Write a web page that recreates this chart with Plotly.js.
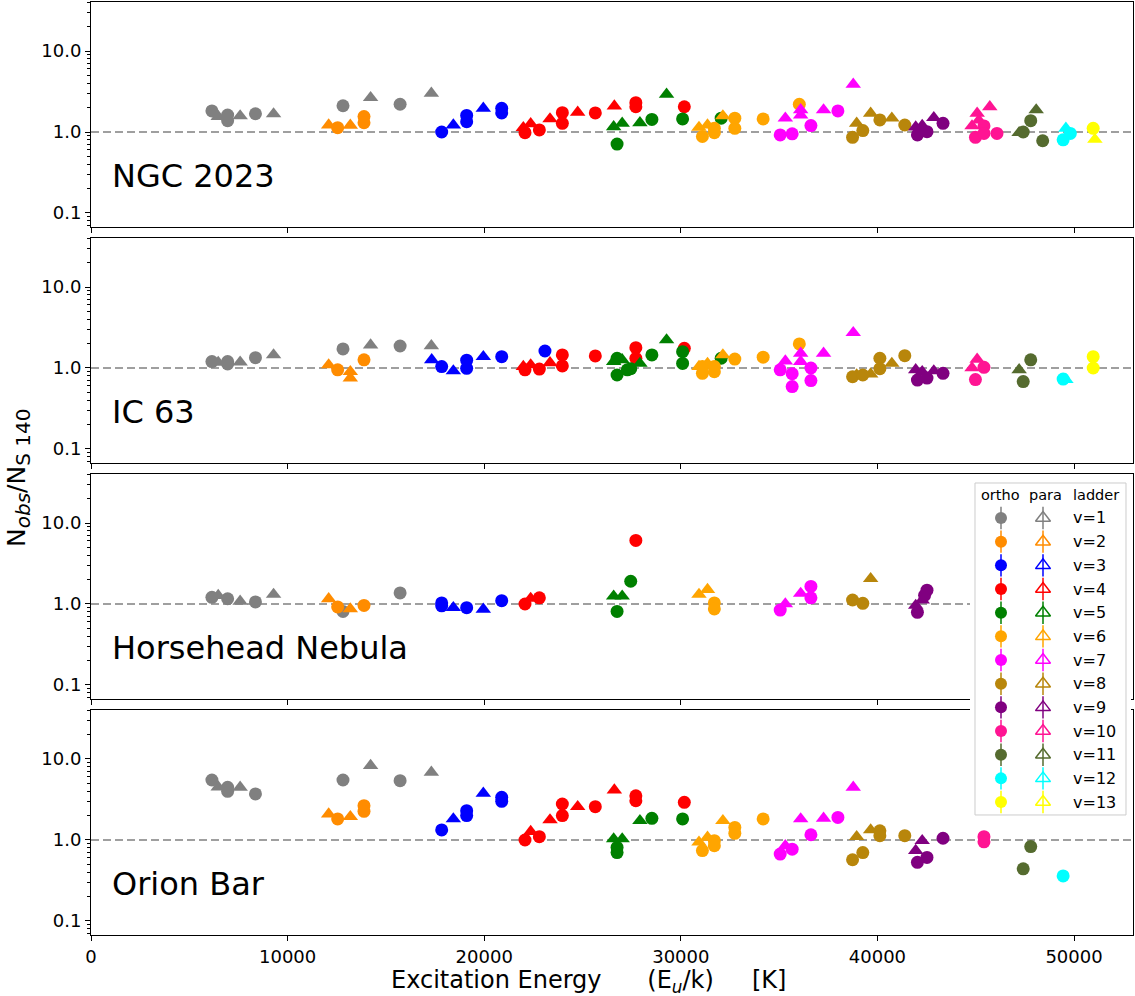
<!DOCTYPE html>
<html><head><meta charset="utf-8">
<script src="https://cdn.plot.ly/plotly-3.0.1.min.js"></script>
<style>body{margin:0;background:#fff}#chart{width:1135px;height:996px}</style>
</head><body><div id="chart"></div>
<script>
const panelNames = ['NGC 2023', 'IC 63', 'Horsehead Nebula', 'Orion Bar'];
const ladderColors = ['#808080','#ff8c00','#0000ff','#ff0000','#008000','#ffa500','#ff00ff','#b8860b','#800080','#ff1493','#556b2f','#00ffff','#ffff00'];
const ladderLabels = ['v=1','v=2','v=3','v=4','v=5','v=6','v=7','v=8','v=9','v=10','v=11','v=12','v=13'];
const legendHeaders = ['ortho', 'para', 'ladder'];
const xTickVals = [0, 10000, 20000, 30000, 40000, 50000];
const xTickText = ['0', '10000', '20000', '30000', '40000', '50000'];
const yTickVals = [0.1, 1, 10];
const yTickText = ['0.1', '1.0', '10.0'];
const yMinorVals = [0.07,0.08,0.09,0.2,0.3,0.4,0.5,0.6,0.7,0.8,0.9,2,3,4,5,6,7,8,9,20,30,40];

// ---- NGC 2023 ----
const ngcOrthoE = [6150,6950,6950,8365,12817,15722, 12546,13886,13886, 17837,19108,19108,20890,20890, 22075,22805,23974,23974,25651,27713,27713,30178, 26758,28529,30091,32053, 31098,31706,31706,32747,32747,34188,36028, 35056,35664,36618,37990, 38736,39257,40125,41392, 42035,42521,43337, 44986,45420,45420,46080, 47416,47798,48406, 49447,49812, 50975];
const ngcOrthoN = [1.82,1.62,1.38,1.68,2.11,2.2, 1.13,1.55,1.3, 1.0,1.6,1.34,1.96,1.72, 0.98,1.06,1.73,1.28,1.72,2.3,2.05,2.05, 0.71,1.43,1.45,1.48, 0.88,1.11,0.98,1.48,1.11,1.45,2.2, 0.92,0.95,1.2,1.82, 0.86,1.04,1.41,1.22, 0.92,1.01,1.28, 0.86,1.19,0.96,0.96, 1.0,1.38,0.78, 0.8,0.96, 1.11];
const ngcOrthoV = [1,1,1,1,1,1, 2,2,2, 3,3,3,3,3, 4,4,4,4,4,4,4,4, 5,5,5,5, 6,6,6,6,6,6,6, 7,7,7,7, 8,8,8,8, 9,9,9, 10,10,10,10, 11,11,11, 12,12, 13];
const ngcParaE = [6471,7586,9286,14221,17311, 12089,13190, 18430,19955, 21990,22364,23347,24755,26619, 26584,27018,27921,29275, 30924,31358,32140, 35316,36097,36097,37261,38771, 38945,39656,40733, 41948,42278,42868, 44812,45073,45160,45716, 47208,48076, 49586, 51062];
const ngcParaN = [1.55,1.58,1.67,2.65,3.0, 1.22,1.21, 1.22,1.96, 1.13,1.26,1.45,1.75,2.09, 1.16,1.28,1.3,2.92, 1.14,1.22,1.58, 1.48,1.88,1.62,1.87,3.88, 1.28,1.7,1.48, 1.15,1.2,1.5, 1.19,1.7,1.4,2.05, 0.98,1.87, 1.11, 0.81];
const ngcParaV = [1,1,1,1,1, 2,2, 3,3, 4,4,4,4,4, 5,5,5,5, 6,6,6, 7,7,7,7,7, 8,8,8, 9,9,9, 10,10,10,10, 11,11, 12, 13];

// ---- IC 63 ----
const ic63OrthoE = [6150,6950,6950,8365,12817,15722, 12546,13886, 17837,19108,19108,20890,23090, 22075,22805,23974,23974,25651,27713,27713,30178, 26758,26758,27279,27452,28529,30091,30091,32053, 31098,31098,31706,31706,32747,34188,36028, 35056,35664,35664,36618,36618, 38736,39257,40125,40125,41392, 42035,42521,43337, 44986,45420, 47416,47798, 49447, 50975,50975];
const ic63OrthoN = [1.2,1.2,1.12,1.34,1.72,1.87, 0.95,1.26, 1.04,1.25,0.99,1.38,1.62, 0.95,0.97,1.45,1.06,1.41,1.78,1.32,1.75, 1.32,0.82,0.95,0.98,1.45,1.59,1.14,1.32, 1.04,0.86,1.04,0.9,1.29,1.36,1.98, 0.95,0.85,0.59,1.0,0.7, 0.78,0.82,1.32,0.98,1.42, 0.71,0.75,0.86, 0.72,1.02, 0.68,1.26, 0.73, 1.38,1.0];
const ic63OrthoV = [1,1,1,1,1,1, 2,2, 3,3,3,3,3, 4,4,4,4,4,4,4,4, 5,5,5,5,5,5,5,5, 6,6,6,6,6,6,6, 7,7,7,7,7, 8,8,8,8,8, 9,9,9, 10,10, 11,11, 12, 13,13];
const ic63ParaE = [6471,7586,9286,14221,17311, 12089,13190,13190, 17330,18430,19955, 21990,22364,23347, 26584,27018,27921,29275, 30924,31358,32140, 35316,36097,36097,37261,38771, 38945,39656,40733, 41948,42278,42868, 44812,45073, 47208, 49586];
const ic63ParaN = [1.17,1.18,1.45,1.92,1.88, 1.09,0.9,0.75, 1.26,0.92,1.38, 1.04,1.09,1.16, 1.2,1.26,1.14,2.22, 1.04,1.14,1.45, 1.22,1.52,1.2,1.52,2.73, 0.82,0.84,1.14, 0.95,0.9,0.92, 1.0,1.28, 0.95, 0.72];
const ic63ParaV = [1,1,1,1,1, 2,2,2, 3,3,3, 4,4,4, 5,5,5,5, 6,6,6, 7,7,7,7,7, 8,8,8, 9,9,9, 10,10, 11, 12];

// ---- Horsehead Nebula ----
const hhOrthoE = [6150,6950,8365,12817,15722, 12546,13886, 17837,17837,19108,20890, 22075,22805,27713, 26758,27452, 31706,31706, 35056,36618,36618, 38736,39257, 42035,42400,42521];
const hhOrthoN = [1.21,1.16,1.06,0.81,1.37, 0.92,0.96, 1.03,0.95,0.9,1.1, 1.0,1.19,6.1, 0.81,1.91, 1.03,0.87, 0.84,1.65,1.19, 1.12,1.02, 0.79,1.28,1.48];
const hhOrthoV = [1,1,1,1,1, 2,2, 3,3,3,3, 4,4,4, 5,5, 6,6, 7,7,7, 8,8, 9,9,9];
const hhParaE = [6471,7586,9286, 12089,13190, 18430,19955, 22364, 26584,27018, 30924,31358, 35316,36097, 39656, 41948,42278];
const hhParaN = [1.27,1.08,1.31, 1.16,0.87, 0.9,0.86, 1.17, 1.25,1.25, 1.31,1.51, 1.0,1.35, 2.05, 0.96,1.12];
const hhParaV = [1,1,1, 2,2, 3,3, 4, 5,5, 6,6, 7,7, 8, 9,9];

// ---- Orion Bar ----
const orionOrthoE = [6150,6950,6950,8365,12817,15722, 12546,13886,13886, 17837,19108,19108,20890,20890, 22075,22805,23974,23974,25651,27713,27713,30178, 26758,26758,28529,30091, 31098,31706,31706,32747,32747,34188, 35056,35664,36618,37990, 38736,39257,40125,40125,41392, 42035,42521,43337, 45420,45420, 47416,47798, 49447];
const orionOrthoN = [5.5,4.47,3.99,3.7,5.5,5.4, 1.82,2.65,2.26, 1.33,2.3,2.0,3.37,3.0, 1.0,1.1,2.78,2.0,2.58,3.52,3.05,2.92, 0.81,0.7,1.85,1.82, 0.74,0.98,0.85,1.43,1.21,1.82, 0.67,0.77,1.16,1.9, 0.57,0.7,1.3,1.13,1.13, 0.53,0.61,1.05, 1.1,0.95, 0.44,0.83, 0.36];
const orionOrthoV = [1,1,1,1,1,1, 2,2,2, 3,3,3,3,3, 4,4,4,4,4,4,4,4, 5,5,5,5, 6,6,6,6,6,6, 7,7,7,7, 8,8,8,8,8, 9,9,9, 10,10, 11,11, 12];
const orionParaE = [6471,7586,14221,17311, 12089,13190, 18430,19955, 22364,23347,24755,26619, 26584,27018,27921, 30924,31358,32140, 35316,36097,37261,38771, 38945,39656, 41948,42278];
const orionParaN = [4.5,4.47,8.3,6.85, 2.09,1.94, 1.82,3.77, 1.27,1.77,2.58,4.14, 1.03,1.03,1.73, 0.94,1.08,1.73, 0.85,1.82,1.85,4.47, 1.1,1.33, 0.74,0.98];
const orionParaV = [1,1,1,1, 2,2, 3,3, 4,4,4,4, 5,5,5, 6,6,6, 7,7,7,7, 8,8, 9,9];

const panels = [
  {o:[ngcOrthoE, ngcOrthoN, ngcOrthoV], p:[ngcParaE, ngcParaN, ngcParaV]},
  {o:[ic63OrthoE, ic63OrthoN, ic63OrthoV], p:[ic63ParaE, ic63ParaN, ic63ParaV]},
  {o:[hhOrthoE, hhOrthoN, hhOrthoV], p:[hhParaE, hhParaN, hhParaV]},
  {o:[orionOrthoE, orionOrthoN, orionOrthoV], p:[orionParaE, orionParaN, orionParaV]}
];

const FONT = 'DejaVu Sans';
const traces = [];
const sfx = i => (i === 0 ? '' : String(i + 1));

panels.forEach((pan, i) => {
  for (let v = 1; v <= 13; v++) {
    ['p', 'o'].forEach(t => {
      const [E, N, V] = pan[t];
      const xs = [], ys = [];
      V.forEach((vv, k) => { if (vv === v) { xs.push(E[k]); ys.push(N[k]); } });
      if (!xs.length) return;
      traces.push({
        type: 'scatter', mode: 'markers', x: xs, y: ys,
        xaxis: 'x' + sfx(i), yaxis: 'y' + sfx(i),
        marker: {symbol: t === 'o' ? 'circle' : 'triangle-up', size: t === 'o' ? 13 : 13.5, color: ladderColors[v - 1], line: {width: 0}},
        showlegend: false, hoverinfo: 'skip'
      });
    });
  }
});

// ---- custom legend on its own axes (pixel-like units) ----
const rows = ladderLabels.map((_, k) => k + 1);
const legendFrameX = [0, 151, 151, 0, 0];
const legendFrameY = [-0.479, -0.479, 13.547, 13.547, -0.479];
traces.push({type:'scatter', mode:'lines', x: legendFrameX, y: legendFrameY, xaxis:'x5', yaxis:'y5',
  fill:'toself', fillcolor:'rgba(255,255,255,0.85)', line:{color:'#cccccc', width:1}, showlegend:false, hoverinfo:'skip'});
traces.push({type:'scatter', mode:'markers', x: rows.map(() => 26), y: rows, xaxis:'x5', yaxis:'y5',
  marker:{symbol:'line-ns', size:16, line:{width:1.5, color: ladderColors}}, showlegend:false, hoverinfo:'skip'});
traces.push({type:'scatter', mode:'markers', x: rows.map(() => 26), y: rows, xaxis:'x5', yaxis:'y5',
  marker:{symbol:'circle', size:12, color: ladderColors, line:{width:0}}, showlegend:false, hoverinfo:'skip'});
traces.push({type:'scatter', mode:'markers', x: rows.map(() => 68), y: rows, xaxis:'x5', yaxis:'y5',
  marker:{symbol:'line-ns', size:16, line:{width:1.5, color: ladderColors}}, showlegend:false, hoverinfo:'skip'});
traces.push({type:'scatter', mode:'markers', x: rows.map(() => 68), y: rows, xaxis:'x5', yaxis:'y5',
  marker:{symbol:'triangle-up-open', size:13, color: ladderColors, line:{width:1.5, color: ladderColors}}, showlegend:false, hoverinfo:'skip'});

const yDomains = [[0.75884, 1], [0.50590, 0.74705], [0.25295, 0.49410], [0, 0.24116]];
const layout = {
  width: 1135, height: 996,
  margin: {l: 91, r: 2, t: 2, b: 61},
  paper_bgcolor: '#fff', plot_bgcolor: '#fff',
  font: {family: FONT, color: '#000'},
  showlegend: false,
  shapes: [], annotations: []
};

panelNames.forEach((name, i) => {
  const s = sfx(i);
  layout['xaxis' + s] = {
    domain: [0, 1], anchor: 'y' + s, range: [0, 53000],
    tickmode: 'array', tickvals: xTickVals, ticktext: xTickText,
    ticks: 'outside', ticklen: 5, tickwidth: 1, tickcolor: '#000',
    showline: true, linecolor: '#000', linewidth: 1, mirror: true,
    showgrid: false, zeroline: false, showticklabels: i === 3,
    tickfont: {family: FONT, size: 18, color: '#000'}
  };
  layout['yaxis' + s] = {
    domain: yDomains[i], anchor: 'x' + s, type: 'log', range: [-1.173, 1.605],
    tickmode: 'array', tickvals: yTickVals, ticktext: yTickText,
    ticks: 'outside', ticklen: 5, tickwidth: 1, tickcolor: '#000',
    minor: {tickmode: 'array', tickvals: yMinorVals, ticks: 'outside', ticklen: 3, tickwidth: 1, tickcolor: '#000', showgrid: false},
    showline: true, linecolor: '#000', linewidth: 1, mirror: true,
    showgrid: false, zeroline: false,
    tickfont: {family: FONT, size: 18, color: '#000'}
  };
  layout.shapes.push({type: 'line', xref: 'x' + s + ' domain', yref: 'y' + s, x0: 0, x1: 1, y0: 1, y1: 1,
    line: {color: '#808080', width: 1.6, dash: '8px,4px'}, layer: 'below'});
  layout.annotations.push({xref: 'x' + s + ' domain', yref: 'y' + s + ' domain', x: 0.018, y: 0.225,
    xanchor: 'left', yanchor: 'middle', text: name, showarrow: false, font: {family: FONT, size: 32, color: '#000'}});
});

layout.xaxis5 = {domain: [0.84357, 0.99808], anchor: 'y5', range: [-5, 156], visible: false, fixedrange: true};
layout.yaxis5 = {domain: [0.12326, 0.48982], anchor: 'x5', range: [13.759, -0.690], visible: false, fixedrange: true};

const headerX = [26, 71, 121];
legendHeaders.forEach((h, k) => layout.annotations.push({xref: 'x5', yref: 'y5', x: headerX[k], y: 0.03, text: h,
  showarrow: false, xanchor: 'center', yanchor: 'middle', font: {family: FONT, size: 14.5, color: '#000'}}));
ladderLabels.forEach((lab, k) => layout.annotations.push({xref: 'x5', yref: 'y5', x: 96, y: k + 1, text: lab,
  showarrow: false, xanchor: 'left', yanchor: 'middle', font: {family: FONT, size: 16, color: '#000'}}));

const nb = '\u00A0';
layout.annotations.push({xref: 'paper', yref: 'paper', x: 0.477, y: -0.0495, xanchor: 'center', yanchor: 'middle',
  text: 'Excitation Energy' + nb.repeat(6) + '(E<sub><i>u</i></sub>/k)' + nb.repeat(5) + '[K]',
  showarrow: false, font: {family: FONT, size: 24, color: '#000'}});
layout.annotations.push({xref: 'paper', yref: 'paper', x: -0.0701, y: 0.4898, xanchor: 'center', yanchor: 'middle',
  textangle: -90,
  text: 'N<sub><span style="font-size:20px"><i>obs</i></span></sub>/N<sub><span style="font-size:20px">S 140</span></sub>',
  showarrow: false, font: {family: FONT, size: 25, color: '#000'}});

Plotly.newPlot('chart', traces, layout, {displayModeBar: false, staticPlot: true});
</script>
</body></html>
